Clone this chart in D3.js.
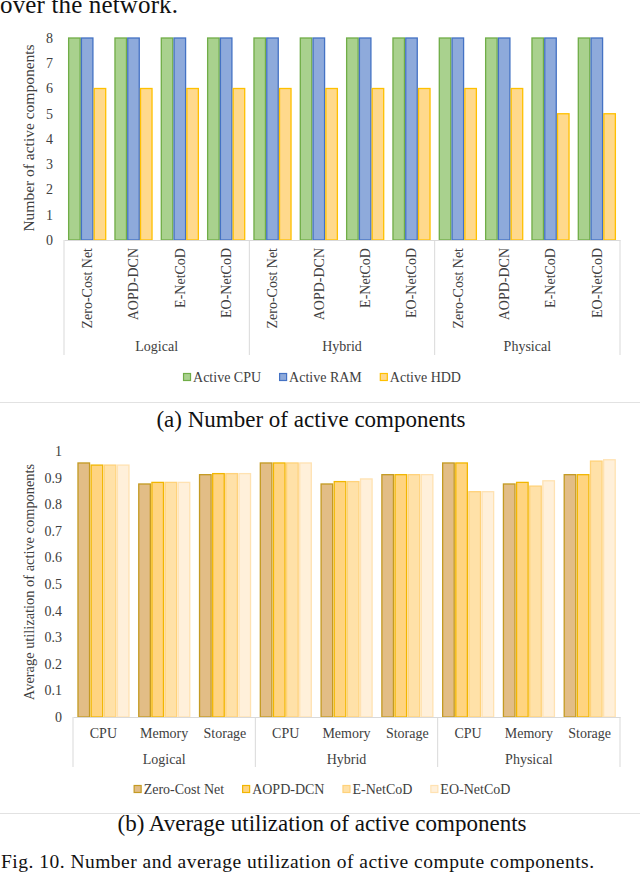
<!DOCTYPE html>
<html>
<head>
<meta charset="utf-8">
<script src="https://cdn.jsdelivr.net/npm/d3@7"></script>
<style>
  body { margin: 0; background: #fff; }
  text { font-family: "Liberation Serif", "Times New Roman", serif; fill: #404040; }
</style>
</head>
<body>
<svg id="fig" width="640" height="876"></svg>
<script>
// ---- data: chart (a) ----
const groups = ["Logical", "Hybrid", "Physical"];
const methods = ["Zero-Cost Net", "AOPD-DCN", "E-NetCoD", "EO-NetCoD"];
const componentsA = ["Active CPU", "Active RAM", "Active HDD"];
const activeCPU = [8, 8, 8, 8, 8, 8, 8, 8, 8, 8, 8, 8];
const activeRAM = [8, 8, 8, 8, 8, 8, 8, 8, 8, 8, 8, 8];
const activeHDD = [6, 6, 6, 6, 6, 6, 6, 6, 6, 6, 5, 5];
const yTicksA = [0, 1, 2, 3, 4, 5, 6, 7, 8];

// ---- data: chart (b) ----
const resources = ["CPU", "Memory", "Storage"];
const utilZeroCost = [0.955, 0.876, 0.911, 0.955, 0.876, 0.911, 0.955, 0.876, 0.911];
const utilAOPD = [0.947, 0.882, 0.915, 0.955, 0.885, 0.911, 0.955, 0.882, 0.911];
const utilENetCoD = [0.947, 0.882, 0.915, 0.955, 0.885, 0.911, 0.847, 0.868, 0.962];
const utilEONetCoD = [0.947, 0.882, 0.915, 0.955, 0.895, 0.911, 0.847, 0.888, 0.967];
const yTicksB = [0, 0.1, 0.2, 0.3, 0.4, 0.5, 0.6, 0.7, 0.8, 0.9, 1];

const svg = d3.select("#fig");
const gridColor = "#d9d9d9";

const fillA = ["#a9d18e", "#8eaadb", "#ffd98c"];
const strokeA = ["#70ad47", "#4472c4", "#ffc000"];
const fillB = ["#e2bd86", "#ffd480", "#ffe1a8", "#fff0da"];
const strokeB = ["#c49a22", "#f2b600", "#ffd27a", "#ffe2b2"];

// cut-off line of the paper text above the figure
svg.append("text")
  .attr("x", 0).attr("y", 13)
  .attr("textLength", 178).attr("lengthAdjust", "spacing")
  .style("font-size", "25px").style("fill", "#111")
  .text("over the network.");

// legend helper, laid out left to right then centred
function legend(names, fills, strokes, cy, cx) {
  const g = svg.append("g");
  let x = 0;
  names.forEach((n, i) => {
    g.append("rect")
      .attr("x", x + 0.5).attr("y", cy - 3.5)
      .attr("width", 7).attr("height", 7)
      .attr("fill", fills[i]).attr("stroke", strokes[i]).attr("stroke-width", 1.2);
    const t = g.append("text")
      .attr("x", x + 10).attr("y", cy + 5)
      .style("font-size", "14px")
      .text(n);
    x += 10 + t.node().getComputedTextLength() + 18;
  });
  x -= 18;
  g.attr("transform", `translate(${cx - x / 2},0)`);
}

// =================== chart (a) ===================
{
  const left = 64, right = 620, top = 38, base = 240;
  const keys = groups.flatMap((g) => methods.map((m) => g + "|" + m));
  const series = [activeCPU, activeRAM, activeHDD];

  const x0 = d3.scaleBand().domain(keys).range([left, right]);
  const bw = x0.bandwidth();
  const x1 = d3.scaleBand().domain(componentsA).range([bw * 0.1, bw * 0.9]).paddingInner(0.1);
  const xg = d3.scaleBand().domain(groups).range([left, right]);
  const y = d3.scaleLinear().domain([0, 8]).range([base, top]);

  // bars
  const cat = svg.append("g").selectAll("g")
    .data(keys)
    .join("g")
    .attr("transform", (k) => `translate(${x0(k)},0)`);
  cat.selectAll("rect")
    .data((k, i) => componentsA.map((c, j) => ({ c, j, v: series[j][i] })))
    .join("rect")
    .attr("x", (d) => x1(d.c))
    .attr("y", (d) => y(d.v))
    .attr("width", x1.bandwidth())
    .attr("height", (d) => base - y(d.v))
    .attr("fill", (d) => fillA[d.j])
    .attr("stroke", (d) => strokeA[d.j])
    .attr("stroke-width", 1.3);

  // y axis (labels only)
  const ya = svg.append("g")
    .attr("transform", `translate(${left},0)`)
    .call(d3.axisLeft(y).tickValues(yTicksA).tickSize(0).tickPadding(11));
  ya.select(".domain").remove();
  ya.selectAll("text").style("font-size", "14px").style("font-family", "Liberation Serif");

  // x axis with rotated method labels
  const xa = svg.append("g")
    .attr("transform", `translate(0,${base})`)
    .call(d3.axisBottom(x0).tickSize(0).tickSizeOuter(0).tickFormat((k) => k.split("|")[1]));
  xa.select(".domain").attr("stroke", gridColor);
  xa.selectAll("text")
    .attr("transform", "rotate(-90)")
    .attr("x", -8).attr("y", 0).attr("dy", "0.34em")
    .style("text-anchor", "end")
    .style("font-size", "14px").style("font-family", "Liberation Serif");

  // group separators and group labels
  const bounds = groups.map((g) => xg(g)).concat([right]);
  svg.append("g").selectAll("line")
    .data(bounds)
    .join("line")
    .attr("x1", (d) => d).attr("x2", (d) => d)
    .attr("y1", base).attr("y2", 355)
    .attr("stroke", gridColor);
  svg.append("g").selectAll("text")
    .data(groups)
    .join("text")
    .attr("x", (g) => xg(g) + xg.bandwidth() / 2)
    .attr("y", 351)
    .attr("text-anchor", "middle")
    .style("font-size", "14px")
    .text((g) => g);

  // y title
  svg.append("text")
    .attr("transform", "translate(34,138) rotate(-90)")
    .attr("text-anchor", "middle")
    .style("font-size", "15.5px")
    .text("Number of active components");

  legend(componentsA, fillA, strokeA, 377, 322);

  svg.append("line")
    .attr("x1", 0).attr("x2", 640).attr("y1", 402.5).attr("y2", 402.5)
    .attr("stroke", "#e2e2e2");

  svg.append("text")
    .attr("x", 311).attr("y", 427)
    .attr("text-anchor", "middle")
    .style("font-size", "23px").style("fill", "#111")
    .text("(a) Number of active components");
}

// =================== chart (b) ===================
{
  const left = 73, right = 620, top = 451, base = 717;
  const keys = groups.flatMap((g) => resources.map((r) => g + "|" + r));
  const series = [utilZeroCost, utilAOPD, utilENetCoD, utilEONetCoD];

  const x0 = d3.scaleBand().domain(keys).range([left, right]);
  const bw = x0.bandwidth();
  const x1 = d3.scaleBand().domain(methods).range([bw * 0.082, bw * 0.921]).paddingInner(0.12);
  const xg = d3.scaleBand().domain(groups).range([left, right]);
  const y = d3.scaleLinear().domain([0, 1]).range([base, top]);

  const cat = svg.append("g").selectAll("g")
    .data(keys)
    .join("g")
    .attr("transform", (k) => `translate(${x0(k)},0)`);
  cat.selectAll("rect")
    .data((k, i) => methods.map((m, j) => ({ m, j, v: series[j][i] })))
    .join("rect")
    .attr("x", (d) => x1(d.m))
    .attr("y", (d) => y(d.v))
    .attr("width", x1.bandwidth())
    .attr("height", (d) => base - y(d.v))
    .attr("fill", (d) => fillB[d.j])
    .attr("stroke", (d) => strokeB[d.j])
    .attr("stroke-width", 1.3);

  const ya = svg.append("g")
    .attr("transform", `translate(${left},0)`)
    .call(d3.axisLeft(y).tickValues(yTicksB).tickSize(0).tickPadding(11).tickFormat((d) => String(d)));
  ya.select(".domain").remove();
  ya.selectAll("text").style("font-size", "14px").style("font-family", "Liberation Serif");

  const xa = svg.append("g")
    .attr("transform", `translate(0,${base})`)
    .call(d3.axisBottom(x0).tickSize(0).tickSizeOuter(0).tickPadding(11).tickFormat((k) => k.split("|")[1]));
  xa.select(".domain").attr("stroke", gridColor);
  xa.selectAll("text").style("font-size", "14px").style("font-family", "Liberation Serif");

  const bounds = groups.map((g) => xg(g)).concat([right]);
  svg.append("g").selectAll("line")
    .data(bounds)
    .join("line")
    .attr("x1", (d) => d).attr("x2", (d) => d)
    .attr("y1", base).attr("y2", 767)
    .attr("stroke", gridColor);
  svg.append("g").selectAll("text")
    .data(groups)
    .join("text")
    .attr("x", (g) => xg(g) + xg.bandwidth() / 2)
    .attr("y", 764)
    .attr("text-anchor", "middle")
    .style("font-size", "14px")
    .text((g) => g);

  svg.append("text")
    .attr("transform", "translate(34,582) rotate(-90)")
    .attr("text-anchor", "middle")
    .style("font-size", "14.4px")
    .text("Average utilization of active components");

  legend(methods, fillB, strokeB, 789, 322);

  svg.append("line")
    .attr("x1", 0).attr("x2", 640).attr("y1", 813.5).attr("y2", 813.5)
    .attr("stroke", "#e2e2e2");

  svg.append("text")
    .attr("x", 322).attr("y", 831)
    .attr("text-anchor", "middle")
    .style("font-size", "23px").style("fill", "#111")
    .text("(b) Average utilization of active components");
}

// figure caption
svg.append("text")
  .attr("x", 1).attr("y", 868)
  .attr("textLength", 593).attr("lengthAdjust", "spacing")
  .style("font-size", "19.5px").style("fill", "#111")
  .text("Fig. 10.  Number and average utilization of active compute components.");
</script>
</body>
</html>
